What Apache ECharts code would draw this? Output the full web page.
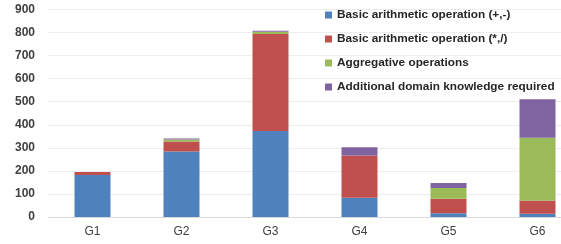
<!DOCTYPE html>
<html>
<head>
<meta charset="utf-8">
<script src="https://cdn.jsdelivr.net/npm/echarts@6/dist/echarts.min.js"></script>
<style>
  html, body { margin: 0; padding: 0; background: #fff; }
  #chart { width: 561px; height: 244px; }
</style>
</head>
<body>
<div id="chart"></div>
<script>
const categories = ["G1", "G2", "G3", "G4", "G5", "G6"];
const seriesNames = [
  "Basic arithmetic operation (+,-)",
  "Basic arithmetic operation (*,/)",
  "Aggregative operations",
  "Additional domain knowledge required",
];
const addSub = [182, 284, 373, 84, 16, 14];
const mulDiv = [13, 44, 421, 183, 63, 58];
const aggregative = [0, 8, 9, 0, 47, 272];
const domainKnowledge = [0, 5, 5, 35, 21, 167];
const colors = ["#4f81bd", "#c0504d", "#9bbb59", "#8064a2"];

const chart = echarts.init(document.getElementById("chart"));
const values = [addSub, mulDiv, aggregative, domainKnowledge];

const option = {
  animation: false,
  color: colors,
  grid: {
    left: 48,
    top: 9.5,
    bottom: 27,
    right: -21,
    outerBoundsMode: "none",
    containLabel: false,
  },
  legend: {
    orient: "vertical",
    left: 320,
    top: 3,
    itemWidth: 7,
    itemHeight: 7,
    itemGap: 10,
    icon: "rect",
    textStyle: {
      fontFamily: "Liberation Sans",
      fontWeight: "bold",
      fontSize: 11.8,
      color: "#262626",
      lineHeight: 14,
    },
    data: seriesNames,
  },
  xAxis: {
    type: "category",
    data: categories,
    axisLine: { lineStyle: { color: "#d9d9d9" } },
    axisTick: { show: false },
    axisLabel: {
      fontFamily: "Liberation Sans",
      fontSize: 12,
      color: "#404040",
      margin: 9,
    },
  },
  yAxis: {
    type: "value",
    min: 0,
    max: 900,
    interval: 100,
    axisLine: { show: false },
    axisTick: { show: false },
    splitLine: { lineStyle: { color: "#ececec" } },
    axisLabel: {
      fontFamily: "Liberation Sans",
      fontWeight: "bold",
      fontSize: 12,
      color: "#404040",
      margin: 13,
    },
  },
  series: seriesNames.map(function (name, i) {
    return {
      name: name,
      type: "bar",
      stack: "total",
      barWidth: 36,
      data: values[i],
    };
  }),
};

chart.setOption(option);
window.onresize = function () {
  chart.resize();
};
</script>
</body>
</html>
